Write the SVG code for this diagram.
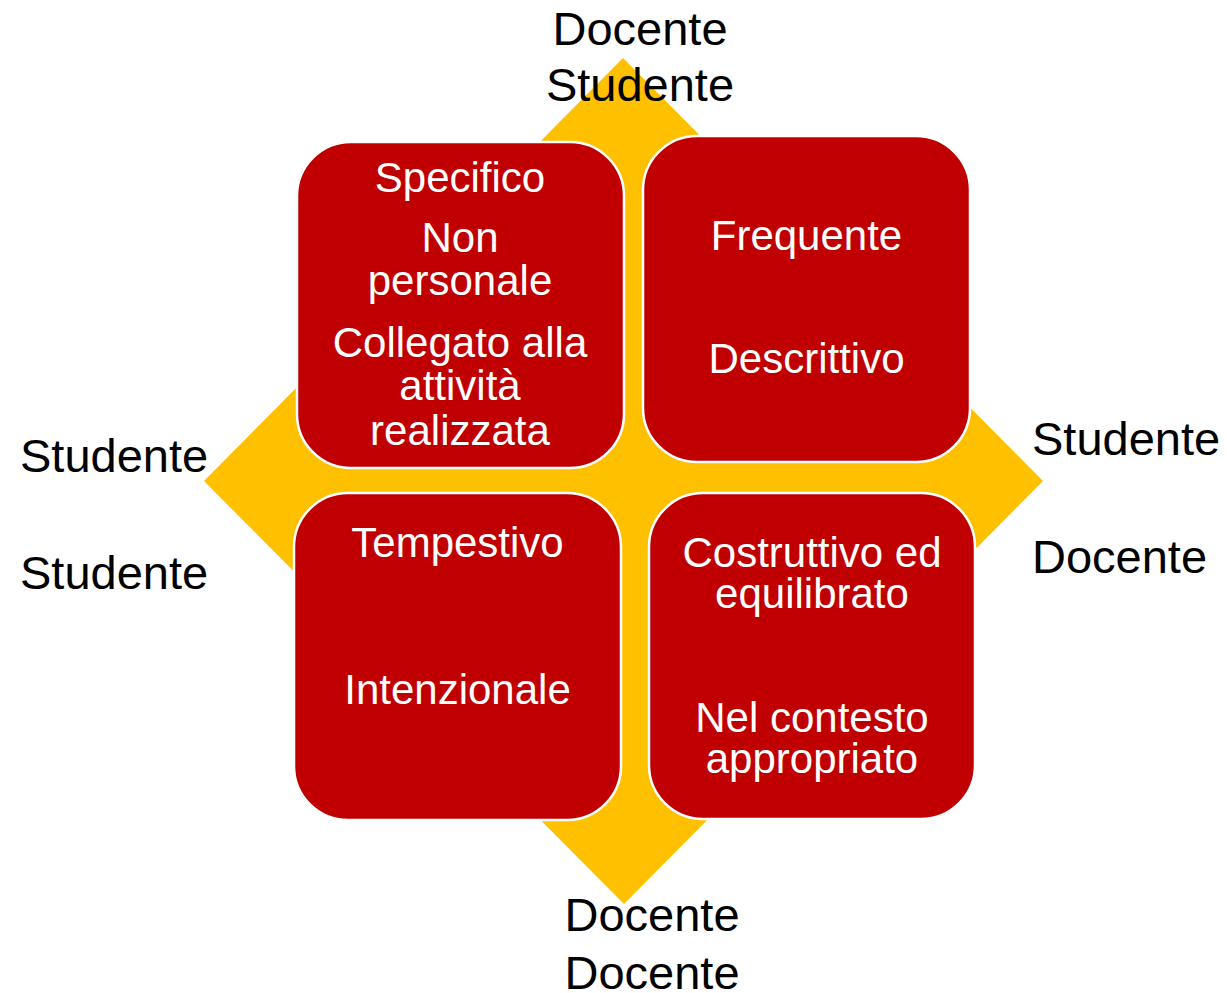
<svg xmlns="http://www.w3.org/2000/svg" width="1227" height="993" viewBox="0 0 1227 993">
  <style>
    .box { fill: #C00000; stroke: #FFFFFF; stroke-width: 2.5; }
    .in { font-family: "Liberation Sans", Arial, sans-serif; font-size: 42px; fill: #FFFFFF; text-anchor: middle; }
    .out { font-family: "Liberation Sans", Arial, sans-serif; font-size: 47px; fill: #000000; }
  </style>
  <rect width="1227" height="993" fill="#FFFFFF"/>
  <g id="diamond">
    <polygon points="623,58 1043,481 624,904 204,481" fill="#FFC000"/>
  </g>
  <g id="connectors"></g>
  <g id="node-tl">
    <rect class="box" x="297" y="142" width="327" height="326" rx="54" ry="54"/>
    <text class="in" x="460" y="192">Specifico</text>
    <text class="in" x="460" y="252">Non</text>
    <text class="in" x="460" y="295">personale</text>
    <text class="in" x="460" y="357">Collegato alla</text>
    <text class="in" x="460" y="400">attività</text>
    <text class="in" x="460" y="445">realizzata</text>
  </g>
  <g id="node-tr">
    <rect class="box" x="643" y="136" width="327" height="326" rx="54" ry="54"/>
    <text class="in" x="806.5" y="250">Frequente</text>
    <text class="in" x="806.5" y="373">Descrittivo</text>
  </g>
  <g id="node-bl">
    <rect class="box" x="294" y="493" width="327" height="327" rx="54" ry="54"/>
    <text class="in" x="457.5" y="557">Tempestivo</text>
    <text class="in" x="457.5" y="704">Intenzionale</text>
  </g>
  <g id="node-br">
    <rect class="box" x="649" y="493" width="326" height="326" rx="54" ry="54"/>
    <text class="in" x="812" y="567">Costruttivo ed</text>
    <text class="in" x="812" y="608">equilibrato</text>
    <text class="in" x="812" y="732">Nel contesto</text>
    <text class="in" x="812" y="773">appropriato</text>
  </g>
  <g id="label-top">
    <text class="out" x="640" y="45" text-anchor="middle">Docente</text>
    <text class="out" x="640" y="101" text-anchor="middle">Studente</text>
  </g>
  <g id="label-left">
    <text class="out" x="20" y="472">Studente</text>
    <text class="out" x="20" y="589">Studente</text>
  </g>
  <g id="label-right">
    <text class="out" x="1032" y="455">Studente</text>
    <text class="out" x="1032" y="573">Docente</text>
  </g>
  <g id="label-bottom">
    <text class="out" x="652" y="931" text-anchor="middle">Docente</text>
    <text class="out" x="652" y="989" text-anchor="middle">Docente</text>
  </g>
</svg>
